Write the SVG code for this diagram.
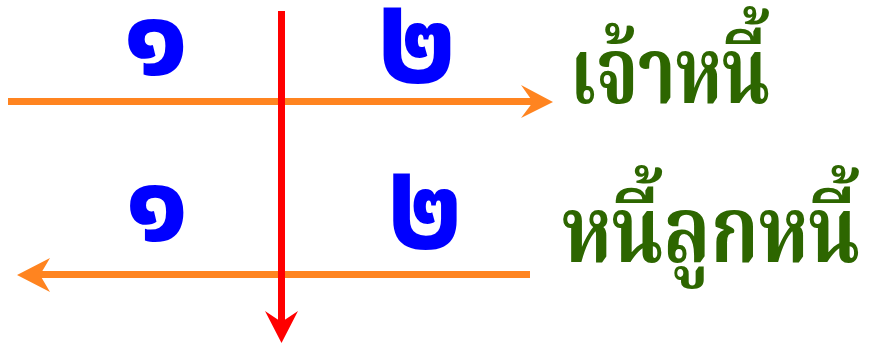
<svg xmlns="http://www.w3.org/2000/svg" width="874" height="347" viewBox="0 0 874 347">
<style>
.dig{font-family:"Noto Sans Thai","Noto Serif Thai","Noto Sans",sans-serif;font-weight:bold;fill:#0000FF;font-size:120px}
.two{font-size:128px}
.lbl{font-family:"Noto Serif Thai","Noto Sans Thai","Noto Sans",serif;font-weight:bold;fill:#2D6600;font-size:92px}
.o{stroke:#FF8420;stroke-width:7;fill:none}
.r{stroke:#FF0000;stroke-width:7;fill:none}
</style>
<rect width="874" height="347" fill="#fff"/>
<g id="connectors">
<line class="o" x1="8" y1="101.5" x2="535" y2="101.5"/>
<path d="M553,102 L521,85 L533,102 L521,118 Z" fill="#FF8420"/>
<line class="o" x1="530" y1="274.5" x2="35" y2="274.5"/>
<path d="M17,275 L50,258 L40,275 L50,292 Z" fill="#FF8420"/>
<line class="r" x1="281.5" y1="11" x2="281.5" y2="325"/>
<path d="M281.5,343 L265,311 L281.5,322 L298,311 Z" fill="#FF0000"/>
</g>
<g id="d1"><text class="dig" x="123" y="74" textLength="66" lengthAdjust="spacingAndGlyphs">๑</text></g>
<g id="d2"><text class="dig two" x="377" y="82" textLength="80" lengthAdjust="spacingAndGlyphs">๒</text></g>
<g id="d3"><text class="dig" x="125" y="240" textLength="64" lengthAdjust="spacingAndGlyphs">๑</text></g>
<g id="d4"><text class="dig two" x="387" y="248" textLength="76" lengthAdjust="spacingAndGlyphs">๒</text></g>
<g id="creditor"><text class="lbl" x="570" y="103" textLength="200" lengthAdjust="spacingAndGlyphs">เจ้าหนี้</text></g>
<g id="debtor"><text class="lbl" x="562" y="262" textLength="298" lengthAdjust="spacingAndGlyphs">หนี้ลูกหนี้</text></g>
</svg>
